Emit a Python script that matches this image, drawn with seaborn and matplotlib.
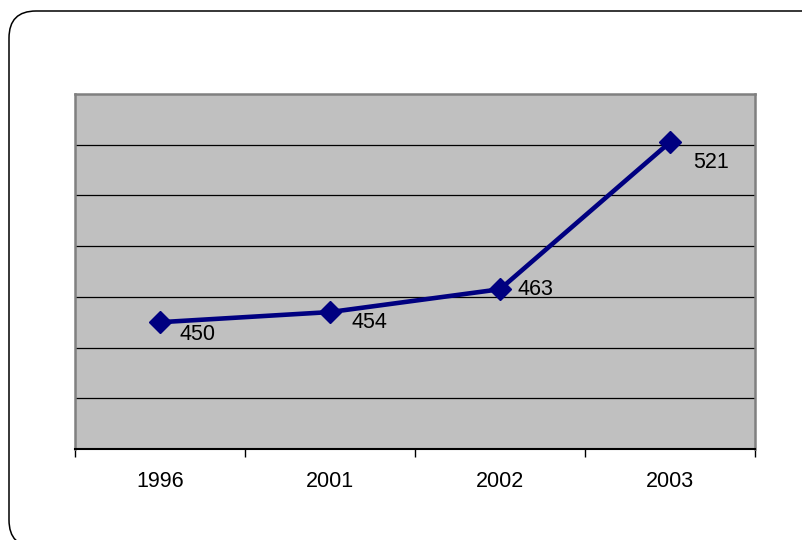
import matplotlib
matplotlib.use("Agg")
import matplotlib.pyplot as plt
import seaborn as sns
import pandas as pd
from matplotlib.patches import FancyBboxPatch

years = ["1996", "2001", "2002", "2003"]
values = [450, 454, 463, 521]
label_offsets = [(20, -12), (21, -10), (17, 0), (23, -20)]  # pixels

sns.set_theme(style="white")
plt.rcParams['font.family'] = ['Liberation Sans', 'DejaVu Sans']

df = pd.DataFrame({"year": years, "value": values})

fig = plt.figure(figsize=(8.02, 5.40), dpi=100)
ax = fig.add_axes([75/802, (540-449)/540, 680/802, 355/540])
ax.set_facecolor("#C0C0C0")

sns.lineplot(data=df, x="year", y="value", ax=ax, color="#000080",
             linewidth=3.3, marker="D", markersize=11,
             markeredgecolor="#000080", markeredgewidth=1, zorder=3)

for i, (v, off) in enumerate(zip(values, label_offsets)):
    ax.annotate(str(v), (i, v), xytext=off, textcoords="offset pixels",
                ha="left", va="center", fontsize=15.5, color="black", zorder=4)

ax.set_xlim(-0.5, 3.5)
ax.set_ylim(400, 540)
ax.set_yticks([420, 440, 460, 480, 500, 520])
ax.yaxis.grid(True, color="black", linewidth=0.9)
ax.set_yticklabels([])
ax.tick_params(axis="y", length=0)
ax.set_xticks(range(len(years)))
ax.set_xticklabels(years, fontsize=15.5, color="black")
ax.set_xticks([-0.5, 0.5, 1.5, 2.5, 3.5], minor=True)
ax.tick_params(axis="x", which="major", length=0, pad=16, labelcolor="black")
ax.tick_params(axis="x", which="minor", length=6, width=1, color="black", bottom=True)
ax.set_xlabel("")
ax.set_ylabel("")

for side in ["left", "top", "right"]:
    ax.spines[side].set_visible(True)
    ax.spines[side].set_color("#808080")
    ax.spines[side].set_linewidth(1.8)
ax.spines["bottom"].set_color("black")
ax.spines["bottom"].set_linewidth(1.5)

frame = FancyBboxPatch((0.09, -0.07), 8.32, 5.36,
                       boxstyle="round,pad=0,rounding_size=0.27",
                       transform=fig.dpi_scale_trans, facecolor="none",
                       edgecolor="black", linewidth=1.1)
fig.add_artist(frame)

fig.savefig("out.png", dpi=100)
